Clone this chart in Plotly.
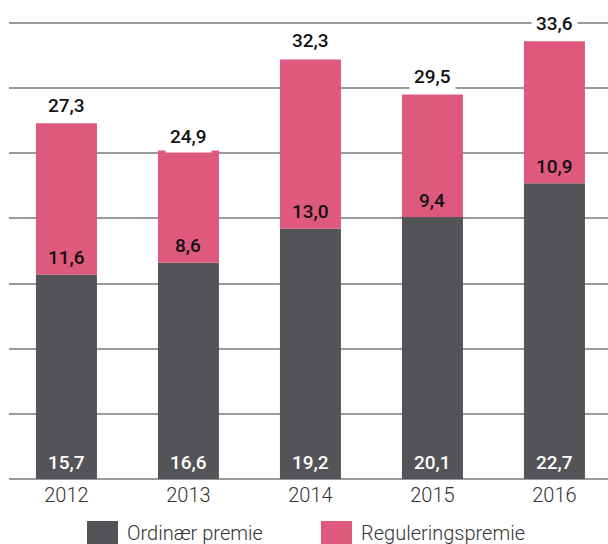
import plotly.graph_objects as go

# Premium figures per year (billions), split into ordinary and regulation premium
years = ["2012", "2013", "2014", "2015", "2016"]
ordinaer = [15.7, 16.6, 19.2, 20.1, 22.7]
regulering = [11.6, 8.6, 13.0, 9.4, 10.9]
totals = [27.3, 24.9, 32.3, 29.5, 33.6]
series_names = ["Ordinær premie", "Reguleringspremie"]

DARK = "#545357"
PINK = "#DE597D"
GRID = "#9a9a9a"
FONT = "Roboto"
VAL_SIZE = 19


def fmt(v):
    return f"{v:.1f}".replace(".", ",")


fig = go.Figure()
fig.add_trace(go.Bar(x=years, y=ordinaer, name=series_names[0],
                     marker=dict(color=DARK, line=dict(width=0)), width=0.5))
fig.add_trace(go.Bar(x=years, y=regulering, name=series_names[1], base=ordinaer,
                     marker=dict(color=PINK, line=dict(width=0)), width=0.5))

annotations = []
# category axis: annotations are placed by category index
for i, (o, r, t) in enumerate(zip(ordinaer, regulering, totals)):
    # value of the ordinary part, white, near the bottom of the bar
    annotations.append(dict(x=i, y=0, text=fmt(o), showarrow=False, yanchor="middle",
                            yshift=17, font=dict(family=FONT, size=VAL_SIZE, color="white", weight=500)))
    # value of the regulation part, near the bottom of the pink segment
    annotations.append(dict(x=i, y=o, text=fmt(r), showarrow=False, yanchor="middle",
                            yshift=17, font=dict(family=FONT, size=VAL_SIZE, color="#111111", weight=500)))
    # total above the bar
    annotations.append(dict(x=i, y=t, text=fmt(t), showarrow=False, yanchor="middle",
                            yshift=18, bgcolor="white", borderpad=4,
                            font=dict(family=FONT, size=VAL_SIZE, color="#111111", weight=500)))

# hand-drawn legend with large swatches (paper coords; plot area spans 19..479 px)
PLOT_H = 460.0


def py(pix):
    return (479 - pix) / PLOT_H


legend_items = [(series_names[0], DARK, 0.1302, 0.182), (series_names[1], PINK, 0.5209, 0.5726)]
shapes = []
for name, col, x0, x1 in legend_items:
    shapes.append(dict(type="rect", xref="paper", yref="paper", x0=x0, x1=x1,
                       y0=py(552), y1=py(521), fillcolor=col, line=dict(width=0)))
    annotations.append(dict(xref="paper", yref="paper", x=x1 + 0.011, y=py(533),
                            xanchor="left", yanchor="middle", showarrow=False, text=name,
                            font=dict(family=FONT, size=20, color="#333333", weight=300)))

fig.update_layout(
    width=608, height=544,
    margin=dict(l=9, r=0, t=19, b=65),
    paper_bgcolor="white", plot_bgcolor="white",
    barmode="overlay",
    showlegend=False,
    font=dict(family=FONT, color="#333333"),
    annotations=annotations,
    shapes=shapes,
    xaxis=dict(type="category", range=[-0.471, 4.439], showgrid=False, showline=False,
               ticks="", tickfont=dict(family=FONT, size=20, color="#333333", weight=300),
               ticklabelstandoff=2, fixedrange=True),
    yaxis=dict(range=[0, 35.3], dtick=5, showgrid=True, gridcolor=GRID, gridwidth=1.5,
               zeroline=True, zerolinecolor=GRID, zerolinewidth=1.5,
               showticklabels=False, showline=False, fixedrange=True),
)

fig.write_html("out.html")
